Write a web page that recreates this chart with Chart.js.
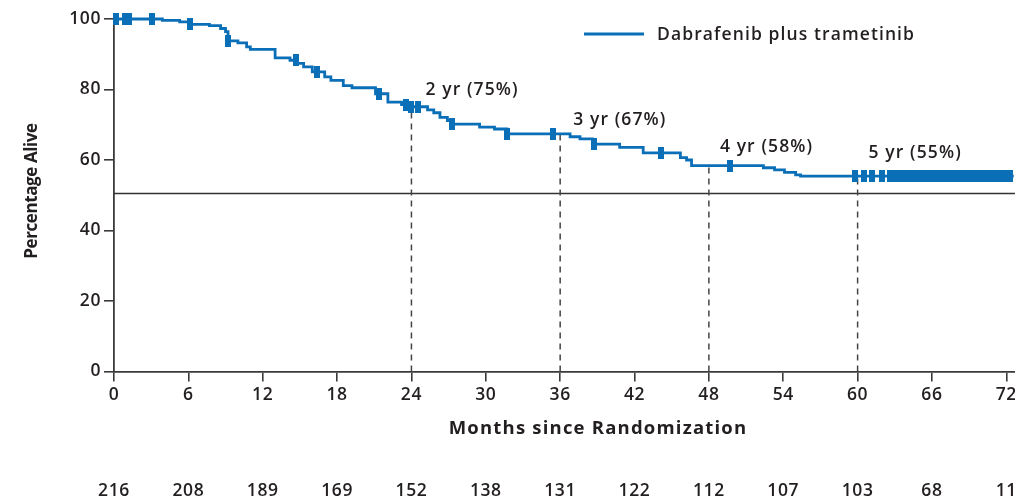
<!DOCTYPE html>
<html>
<head>
<meta charset="utf-8">
<script src="https://cdn.jsdelivr.net/npm/chart.js@4/dist/chart.umd.min.js"></script>
<style>
  html, body { margin: 0; padding: 0; background: #fff; overflow: hidden; }
  #wrap { position: relative; width: 1040px; height: 499px; }
</style>
</head>
<body>
<div id="wrap"><canvas id="km" width="1040" height="499"></canvas></div>
<script>
// Kaplan-Meier overall survival, dabrafenib plus trametinib
const eventMonths = [0, 3.9, 5.3, 6.1, 7.7, 8.6, 9.0, 9.2, 10.0, 10.7,
  11.0, 13.0, 14.2, 14.8, 15.3, 16.0, 17.0, 17.5, 18.5, 19.2,
  21.1, 22.1, 23.2, 23.9, 25.3, 25.8, 26.3, 26.9, 27.3, 29.5,
  30.7, 31.7, 36.8, 37.6, 38.6, 40.8, 42.7, 45.7, 46.2, 46.6,
  52.4, 53.3, 54.1, 55.0, 55.4, 72.6];
const survivalPct = [100, 99.6, 99.2, 98.5, 98.1, 97.3, 96.4, 93.8, 93.2, 92.1,
  91.4, 89.0, 88.3, 87.4, 86.4, 85.0, 83.6, 82.6, 81.1, 80.5,
  78.8, 76.4, 75.7, 75.1, 74.2, 73.4, 72.1, 71.2, 70.2, 69.3,
  68.8, 67.4, 66.6, 66.0, 64.5, 63.6, 62.0, 60.7, 60.0, 58.4,
  57.8, 57.2, 56.5, 55.8, 55.4, 55.4];

// censored observations (months)
const censorMonths = [0.2, 0.9, 1.2, 3.1, 6.1, 9.2, 14.7, 16.4, 21.4, 23.6,
  24.0, 24.5, 27.3, 31.7, 35.4, 38.7, 44.1, 49.7, 59.8, 60.5,
  61.2, 62.0, 62.6, 62.9, 63.3, 63.6, 64.0, 64.3, 64.7, 65.0,
  65.4, 65.7, 66.1, 66.5, 66.8, 67.1, 67.5, 67.8, 68.2, 68.5,
  68.9, 69.2, 69.6, 69.9, 70.3, 70.6, 71.0, 71.3, 71.7, 72.0, 72.3];

// landmark survival estimates
const landmarkMonths = [24, 36, 48, 60];
const landmarkLabels = ['2 yr (75%)', '3 yr (67%)', '4 yr (58%)', '5 yr (55%)'];

const referenceLevel = 50.5;
const monthTicks = [0, 6, 12, 18, 24, 30, 36, 42, 48, 54, 60, 66, 72];
const pctTicks = [0, 20, 40, 60, 80, 100];
const numberAtRisk = [216, 208, 189, 169, 152, 138, 131, 122, 112, 107, 103, 68, 11];
const xMax = 72.7;

const seriesName = 'Dabrafenib plus trametinib';
const BLUE = '#0b6fb7';
const INK = '#231f20';
const AXIS = '#3a3a3a';
const FONT = "'Open Sans', 'Noto Sans', sans-serif";

function survivalAt(t) {
  let s = survivalPct[0];
  for (let i = 0; i < eventMonths.length; i++) {
    if (eventMonths[i] <= t) s = survivalPct[i]; else break;
  }
  return s;
}

// censor tick: small solid vertical block
const censorMark = document.createElement('canvas');
censorMark.width = 6;
censorMark.height = 12;
(function () {
  const c = censorMark.getContext('2d');
  c.fillStyle = BLUE;
  c.fillRect(0, 0, 6, 12);
})();

const datasets = [
  {
    label: 'censored',
    data: censorMonths.map(t => ({ x: t, y: survivalAt(t) })),
    showLine: false,
    pointStyle: censorMark,
    pointRadius: 6,
    clip: false
  },
  {
    label: seriesName,
    data: eventMonths.map((m, i) => ({ x: m, y: survivalPct[i] })),
    stepped: 'before',
    borderColor: BLUE,
    borderWidth: 2.8,
    pointRadius: 0,
    fill: false,
    clip: false,
    borderJoinStyle: 'miter'
  }
];
landmarkMonths.forEach(m => {
  datasets.push({
    label: 'landmark ' + m,
    data: [{ x: m, y: 0 }, { x: m, y: survivalAt(m) }],
    borderColor: '#444',
    borderWidth: 1.5,
    borderDash: [6, 5],
    pointRadius: 0,
    fill: false
  });
});
datasets.push({
  label: 'reference',
  data: [{ x: 0, y: referenceLevel }, { x: xMax, y: referenceLevel }],
  borderColor: '#333',
  borderWidth: 1.4,
  pointRadius: 0,
  fill: false
});

const textPlugin = {
  id: 'kmText',
  beforeDraw(chart) {
    chart.ctx.letterSpacing = '0.6px';
  },
  afterDraw(chart) {
    const ctx = chart.ctx;
    const xs = chart.scales.x, ys = chart.scales.y;
    ctx.save();
    ctx.letterSpacing = '1.1px';
    ctx.fillStyle = INK;

    // legend
    ctx.strokeStyle = BLUE;
    ctx.lineWidth = 2.8;
    ctx.beginPath();
    ctx.moveTo(584, 34);
    ctx.lineTo(644, 34);
    ctx.stroke();
    ctx.font = '600 17.5px ' + FONT;
    ctx.textAlign = 'left';
    ctx.textBaseline = 'alphabetic';
    ctx.fillText(seriesName, 657, 40);

    // landmark annotations
    const dx = [14, 13, 11, 11];
    const dy = [-12, -9, -14, -18];
    landmarkMonths.forEach((m, i) => {
      const px = xs.getPixelForValue(m) + dx[i];
      const py = ys.getPixelForValue(survivalAt(m)) + dy[i];
      ctx.fillText(landmarkLabels[i], px, py);
    });

    // axis titles
    ctx.font = 'bold 18.5px ' + FONT;
    ctx.letterSpacing = '1.2px';
    ctx.textAlign = 'center';
    ctx.fillText('Months since Randomization', 598, 434);

    ctx.save();
    ctx.letterSpacing = '-0.4px';
    ctx.translate(37, 191);
    ctx.rotate(-Math.PI / 2);
    ctx.font = 'bold 17px ' + FONT;
    ctx.textBaseline = 'alphabetic';
    ctx.fillText('Percentage Alive', 0, 0);
    ctx.restore();

    // number at risk
    ctx.letterSpacing = '0.6px';
    ctx.font = '600 17.5px ' + FONT;
    ctx.textAlign = 'center';
    ctx.textBaseline = 'alphabetic';
    monthTicks.forEach((m, i) => {
      ctx.fillText(String(numberAtRisk[i]), xs.getPixelForValue(m), 496);
    });
    ctx.restore();
  }
};

new Chart(document.getElementById('km'), {
  type: 'line',
  data: { datasets },
  options: {
    responsive: false,
    animation: false,
    events: [],
    layout: { padding: { top: 19, right: 25, left: 0, bottom: 0 } },
    plugins: { legend: { display: false }, tooltip: { enabled: false } },
    scales: {
      x: {
        type: 'linear',
        min: 0,
        max: xMax,
        afterBuildTicks: s => { s.ticks = monthTicks.map(v => ({ value: v })); },
        afterFit: s => { s.height = 127.5; },
        border: { display: true, color: AXIS, width: 1.8 },
        grid: { display: true, drawOnChartArea: false, drawTicks: true, tickLength: 10, tickColor: AXIS, lineWidth: 1.6 },
        ticks: { color: INK, font: { family: FONT, size: 17.5, weight: '600' }, padding: 3, maxRotation: 0, autoSkip: false }
      },
      y: {
        type: 'linear',
        min: 0,
        max: 100,
        afterBuildTicks: s => { s.ticks = pctTicks.map(v => ({ value: v })); },
        afterFit: s => { s.width = 114; },
        border: { display: true, color: AXIS, width: 1.8 },
        grid: { display: true, drawOnChartArea: false, drawTicks: true, tickLength: 10, tickColor: AXIS, lineWidth: 1.6 },
        ticks: { color: INK, font: { family: FONT, size: 17.5, weight: '600' }, padding: 3 }
      }
    }
  },
  plugins: [textPlugin]
});
</script>
</body>
</html>
